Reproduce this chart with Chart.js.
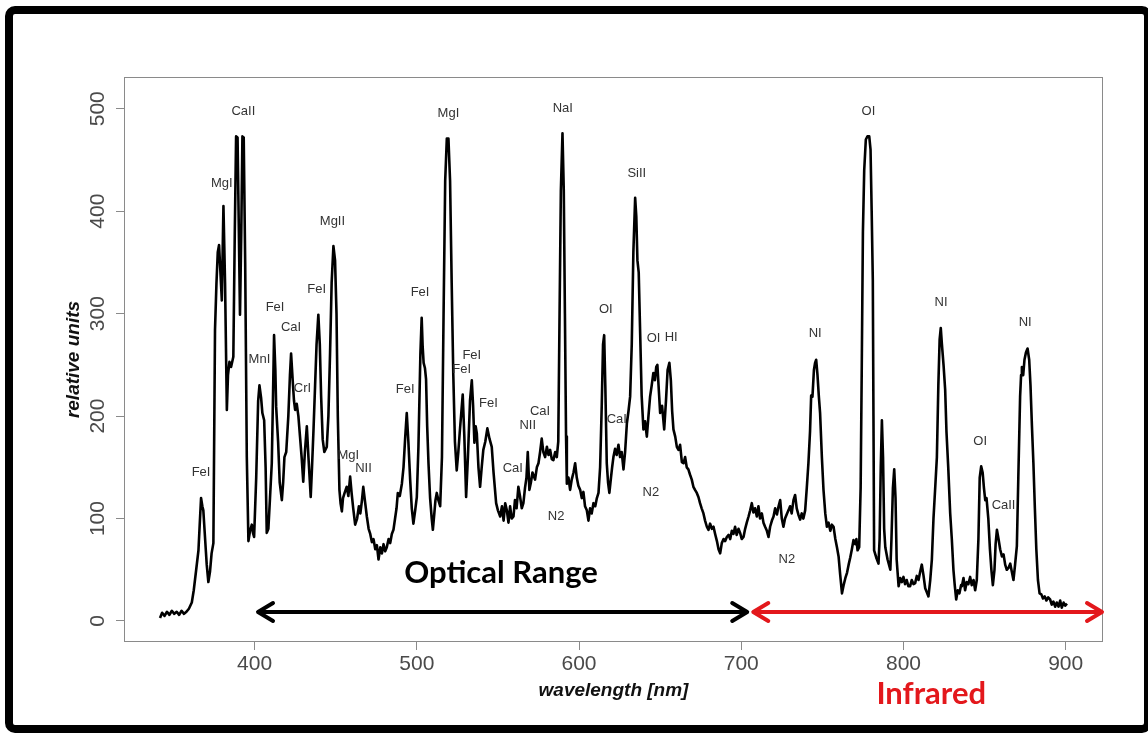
<!DOCTYPE html>
<html>
<head>
<meta charset="utf-8">
<title>Spectrum</title>
<script src="https://cdn.jsdelivr.net/npm/chart.js"></script>
<style>
  body { margin: 0; background: #fff; overflow: hidden; }
  #wrap { position: relative; width: 1148px; height: 733px; overflow: hidden; }
  #frame {
    position: absolute; left: 5px; top: 6px; width: 1147px; height: 727px;
    border: 8px solid #000; border-radius: 10px; box-sizing: border-box;
    pointer-events: none;
  }
</style>
</head>
<body>
<div id="wrap">
  <canvas id="chart-spectrum" width="1148" height="733"></canvas>
  <div id="frame"></div>
</div>
<script>
// spectrum: wavelength (nm) / relative units
const wavelength = [
  341.7, 343, 344.5, 346, 347.5, 349, 350.5, 352, 353.5, 355, 356.5, 358, 359.5, 361.3, 362.5, 364, 365.4, 366.2, 367, 367.8,
  368.4, 369.5, 370.5, 371.5, 372.5, 373.5, 374.6, 375.6, 376.5, 377.3, 378.1, 378.8, 379.8, 380.8, 381.8, 382.9, 383.6, 384.5, 385.5, 386.9,
  387.8, 388.6, 389.5, 390.3, 391, 391.8, 392.5, 393.3, 394.2, 395.2, 396.2, 397.2, 398.3, 399, 399.7, 401, 402.2, 403, 404, 404.8,
  405.9, 406.8, 407.5, 408.5, 409.5, 410.6, 411.3, 412, 412.8, 413.3, 414.5, 415.5, 416.8, 417.6, 418.4, 419.5, 420.8, 421.8, 422.5, 423.6,
  424.3, 425, 426, 427, 428, 429, 430, 431, 432.2, 433.2, 434.6, 435.4, 436.3, 437.3, 438.2, 439.3, 440.2, 441, 442, 443,
  444.5, 445.5, 446.5, 447.5, 448.6, 449.6, 450.5, 451.3, 452.3, 453, 453.8, 454.5, 455.5, 456.8, 457.8, 458.9, 459.8, 460.8, 462, 463.2,
  464.3, 465.2, 466.2, 467, 468.2, 469.2, 470.3, 471.3, 472.3, 473.3, 474.4, 475.4, 476.4, 477.5, 478.5, 479.5, 480.5, 481.5, 482.6, 483.6,
  484.6, 485.6, 486.6, 487.5, 488.3, 489.5, 490.8, 491.8, 492.8, 493.8, 494.8, 495.9, 496.9, 497.9, 499, 500, 501, 502.2, 503, 503.6,
  504.2, 505, 505.7, 506.4, 507.2, 508.2, 509.2, 509.9, 510.8, 511.5, 512.3, 513.3, 514.4, 515.5, 516.5, 517.5, 518.5, 519.5, 520.5, 521.5,
  522.5, 523.5, 524.6, 525.6, 526.5, 527.5, 528.3, 529.3, 530.4, 531.5, 532.8, 533.9, 534.7, 535.5, 536.3, 537, 538, 539, 540, 541,
  542.2, 543.5, 544.8, 546.2, 547.3, 548.9, 550, 551.4, 552.5, 553.5, 554.5, 555.5, 556.5, 557.5, 558.5, 559.6, 560.5, 561.5, 562.6, 563.6,
  564.7, 565.7, 566.7, 567.6, 568.4, 569.4, 570.3, 571.3, 572.9, 574, 575, 576, 577, 578, 579.1, 580.2, 581.2, 582.2, 583.2, 584.2,
  585.3, 586.3, 587.2, 588, 588.8, 589.8, 590.6, 591.3, 592, 592.5, 593.5, 594.5, 595.5, 596.6, 597.6, 598.6, 599.6, 600.7, 601.7, 602.7,
  603.7, 604.8, 605.8, 606.8, 607.8, 608.9, 610, 611, 612, 613, 614, 614.8, 615.5, 616.2, 617.1, 617.9, 618.7, 619.7, 620.4, 621.2,
  622.2, 623.2, 624.3, 625.3, 626.3, 627.4, 628.4, 629.5, 630.5, 631.5, 632.5, 633.5, 634.6, 635.3, 636, 636.8, 637.7, 638.6, 639.7, 640.7,
  641.8, 642.8, 643.8, 644.8, 645.8, 646.8, 647.6, 648.3, 649.2, 650, 651.2, 652.5, 653.6, 654.6, 655.7, 656.6, 657.4, 658.2, 659.3, 660.3,
  661.3, 662.3, 663.4, 664.4, 665.4, 666.4, 667.4, 668.4, 669.5, 670.5, 671.5, 672.6, 673.6, 674.6, 675.6, 676.7, 677.7, 678.8, 679.8, 680.8,
  681.9, 682.9, 683.9, 685, 686, 687, 688, 689.1, 690.1, 691.1, 692.2, 693.2, 694.2, 695.2, 696.2, 697.2, 698.3, 699.3, 700.3, 701.4,
  702.4, 703.4, 704.5, 705.5, 706.5, 707.5, 708.5, 709.6, 710.6, 711.6, 712.7, 713.7, 714.7, 715.8, 716.8, 717.8, 718.9, 719.9, 720.9, 722,
  723, 724, 725, 726, 727, 728, 729.1, 730.1, 731.1, 732.2, 733.2, 734.2, 735.2, 736.3, 737.3, 738.3, 739.4, 740.4, 741.4, 742.4,
  743.1, 743.9, 744.8, 745.5, 746.2, 747, 747.8, 748.6, 749.7, 750.7, 751.8, 752.8, 753.8, 754.9, 755.9, 756.9, 758, 759, 760, 761,
  762.1, 763.1, 764.2, 765.2, 766.2, 767.2, 768.2, 769.2, 770.3, 771, 771.7, 772.7, 773.6, 774.3, 775, 775.8, 776.8, 777.8, 778.9, 779.7,
  780.4, 781.1, 781.5, 781.9, 783.2, 784.6, 785.3, 786, 786.7, 787.4, 788.1, 788.8, 790.2, 791.9, 792.6, 793.5, 794.3, 795.1, 795.8, 797,
  798, 799, 800, 801, 802, 803, 804.1, 805.1, 806.2, 807.2, 808.2, 809.3, 810.3, 811.3, 812.3, 813.4, 814.4, 815.4, 816.5, 817.5,
  818.5, 819.6, 820.6, 821.5, 822.3, 823, 823.7, 824.7, 825.7, 826.5, 827.6, 828.8, 829.8, 830.8, 831.6, 832.5, 833.5, 834.5, 835.5, 836,
  837, 838, 839, 840, 841.1, 842.1, 843.2, 844.2, 845.2, 846.2, 847, 847.9, 848.8, 849.6, 850.4, 851.2, 852.3, 853.3, 854.2, 855.1,
  856.1, 856.8, 857.6, 858.6, 859.6, 860.7, 861.7, 862.7, 863.7, 864.8, 865.8, 866.8, 867.8, 868.8, 869.9, 870.8, 871.9, 872.5, 873, 873.8,
  874.6, 875.5, 876.5, 877.5, 878.3, 879.2, 880.1, 881, 881.9, 882.9, 883.9, 885, 886, 887.1, 888.1, 889.2, 890.4, 891.4, 892.4, 893.5,
  894.5, 895.6, 896.6, 897.6, 898.7, 899.7, 900.8
];
const intensity = [
  3, 8, 5, 9, 6, 10, 7, 9, 6, 10, 7, 9, 12, 18, 30, 50, 69, 95, 120, 112,
  108, 80, 55, 38, 48, 66, 76, 284, 330, 360, 367, 345, 313, 405, 330, 206, 240, 253, 248, 258,
  380, 473, 472, 380, 299, 380, 473, 472, 350, 160, 78, 88, 94, 86, 82, 140, 215, 230, 218, 203,
  196, 150, 86, 90, 120, 154, 215, 279, 245, 209, 175, 135, 118, 135, 160, 165, 200, 240, 261, 232,
  215, 206, 212, 200, 180, 160, 136, 165, 190, 160, 121, 150, 186, 230, 270, 299, 270, 220, 177, 165,
  170, 200, 260, 330, 366, 352, 300, 200, 128, 115, 107, 120, 125, 131, 122, 141, 125, 110, 94, 100,
  112, 105, 118, 131, 115, 102, 90, 85, 77, 80, 70, 74, 60, 72, 66, 75, 68, 72, 80, 76,
  85, 89, 100, 110, 125, 122, 134, 150, 178, 203, 175, 138, 110, 95, 108, 121, 170, 260, 296, 268,
  252, 247, 236, 190, 154, 120, 100, 89, 105, 118, 125, 118, 112, 160, 300, 430, 471, 471, 430, 330,
  240, 175, 147, 165, 185, 205, 221, 180, 121, 160, 215, 235, 210, 174, 190, 183, 150, 131, 150, 167,
  175, 188, 178, 170, 145, 115, 108, 102, 112, 98, 115, 108, 96, 112, 100, 102, 118, 110, 131, 122,
  110, 115, 130, 140, 165, 128, 135, 145, 138, 150, 154, 165, 178, 165, 160, 170, 162, 167, 158, 157,
  165, 160, 175, 300, 420, 476, 420, 300, 180, 134, 140, 128, 138, 145, 154, 140, 132, 128, 120, 126,
  112, 108, 98, 110, 105, 115, 112, 120, 125, 150, 210, 270, 279, 230, 154, 135, 125, 140, 150, 160,
  168, 162, 172, 160, 165, 148, 165, 193, 205, 219, 270, 360, 413, 395, 352, 340, 280, 220, 187, 195,
  180, 200, 219, 230, 242, 235, 248, 250, 225, 203, 210, 187, 215, 245, 252, 235, 205, 187, 180, 170,
  167, 172, 155, 154, 160, 150, 148, 143, 138, 131, 128, 125, 121, 115, 110, 105, 98, 92, 89, 95,
  90, 92, 85, 78, 70, 66, 76, 80, 78, 82, 84, 80, 88, 85, 92, 84, 90, 86, 80, 82,
  90, 96, 102, 108, 115, 106, 110, 102, 112, 100, 105, 96, 92, 88, 82, 92, 98, 102, 110, 104,
  112, 118, 100, 92, 100, 104, 108, 112, 105, 118, 123, 110, 104, 99, 105, 100, 108, 130, 154, 185,
  220, 219, 245, 252, 255, 240, 220, 203, 160, 128, 105, 92, 96, 88, 94, 92, 80, 72, 63, 45,
  27, 35, 42, 47, 55, 62, 70, 79, 75, 80, 69, 72, 130, 250, 380, 440, 470, 473, 473, 460,
  400, 333, 200, 69, 62, 56, 80, 150, 196, 160, 90, 72, 60, 50, 80, 130, 148, 120, 60, 34,
  42, 38, 43, 36, 40, 34, 34, 40, 36, 37, 44, 40, 48, 55, 45, 32, 28, 24, 40, 60,
  100, 131, 160, 230, 275, 286, 270, 250, 226, 185, 150, 105, 80, 50, 35, 21, 30, 27, 35, 34,
  42, 30, 38, 36, 43, 35, 40, 30, 40, 80, 140, 151, 145, 130, 118, 120, 100, 70, 50, 35,
  50, 75, 89, 80, 70, 63, 65, 55, 50, 52, 56, 48, 40, 55, 73, 140, 219, 240, 248, 240,
  255, 262, 266, 255, 230, 190, 154, 110, 70, 40, 27, 26, 22, 24, 20, 23, 21, 16, 19, 14,
  18, 14, 20, 13, 18, 15, 17
];

// axis ticks
const xTicks = [400, 500, 600, 700, 800, 900];
const yTicks = [0, 100, 200, 300, 400, 500];

// line labels (text, wavelength, height)
const peakNames = ['FeI', 'MgI', 'CaII', 'MnI', 'FeI', 'CaI', 'CrI', 'FeI', 'MgII', 'MgI', 'NII',
  'FeI', 'FeI', 'MgI', 'FeI', 'FeI', 'FeI', 'CaI', 'NII', 'CaI', 'N2', 'NaI', 'SiII', 'OI', 'CaI',
  'OI', 'HI', 'N2', 'N2', 'NI', 'OI', 'NI', 'NI', 'OI', 'CaII'];
const peakX = [367.0, 379.8, 393.1, 403.0, 412.6, 422.5, 429.5, 438.3, 448.0, 457.8, 467.1,
  492.8, 502.0, 519.5, 533.9, 527.7, 544.1, 576.0, 568.4, 559.2, 585.9, 590.0, 635.6, 616.5, 623.3,
  645.9, 656.8, 644.3, 728.1, 745.6, 778.4, 823.2, 875.0, 847.3, 861.7];
const peakY = [144.8, 426.8, 497.4, 255.6, 305.7, 286.1, 227.2, 323.2, 389.6, 162.1, 149.1,
  226.3, 320.3, 495.8, 258.8, 245.1, 211.9, 204.4, 190.7, 149.1, 102.5, 500.7, 437.2, 303.7, 197.0,
  276.1, 276.7, 125.3, 60.3, 280.3, 497.4, 310.8, 291.7, 175.1, 113.3];

// spectral ranges (nm)
const rangeNames = ['Optical Range', 'Infrared'];
const rangeFrom = [401.5, 706.8];
const rangeTo = [704.3, 923];

const GRAY = '#4a4a4a';
const RED = '#e3181c';

// box, peak labels, range arrows
const overlay = {
  id: 'overlay',
  afterDatasetsDraw(chart) {
    const ctx = chart.ctx;
    const xs = chart.scales.x;
    const ys = chart.scales.y;
    const a = chart.chartArea;

    ctx.save();
    ctx.strokeStyle = '#8a8a8a';
    ctx.lineWidth = 1;
    ctx.strokeRect(a.left + 0.5, a.top + 0.5, a.right - a.left - 1, a.bottom - a.top - 1);

    ctx.fillStyle = '#333';
    ctx.font = '13px "Liberation Sans", Arial, sans-serif';
    ctx.textAlign = 'center';
    ctx.textBaseline = 'middle';
    peakNames.forEach((name, i) => {
      ctx.fillText(name, xs.getPixelForValue(peakX[i]), ys.getPixelForValue(peakY[i]));
    });

    // double arrows just above zero
    const arrowY = ys.getPixelForValue(8.8);
    const colors = ['#000', RED];
    rangeFrom.forEach((from, i) => {
      const x1 = xs.getPixelForValue(from);
      const x2 = xs.getPixelForValue(rangeTo[i]);
      ctx.strokeStyle = colors[i];
      ctx.lineWidth = 4;
      ctx.lineCap = 'round';
      ctx.lineJoin = 'round';
      ctx.beginPath();
      ctx.moveTo(x1 + 2, arrowY);
      ctx.lineTo(x2 - 2, arrowY);
      ctx.moveTo(x1 + 16, arrowY - 9);
      ctx.lineTo(x1 + 1, arrowY);
      ctx.lineTo(x1 + 16, arrowY + 9);
      ctx.moveTo(x2 - 16, arrowY - 9);
      ctx.lineTo(x2 - 1, arrowY);
      ctx.lineTo(x2 - 16, arrowY + 9);
      ctx.stroke();
    });

    ctx.font = 'bold 31px Lato, "Open Sans", sans-serif';
    ctx.fillStyle = '#000';
    ctx.fillText(rangeNames[0], xs.getPixelForValue(551.9), ys.getPixelForValue(46.9));
    ctx.fillStyle = RED;
    ctx.fillText(rangeNames[1], xs.getPixelForValue(817.1), ys.getPixelForValue(-71.3));
    ctx.restore();
  }
};

const ctx = document.getElementById('chart-spectrum').getContext('2d');
new Chart(ctx, {
  type: 'line',
  data: {
    datasets: [{
      data: wavelength.map((w, i) => ({ x: w, y: intensity[i] })),
      borderColor: '#000',
      borderWidth: 2.6,
      pointRadius: 0,
      tension: 0,
      borderJoinStyle: 'round'
    }]
  },
  options: {
    responsive: false,
    animation: false,
    events: [],
    layout: { padding: { top: 77, right: 45, left: 0, bottom: 0 } },
    plugins: { legend: { display: false }, tooltip: { enabled: false } },
    scales: {
      x: {
        type: 'linear',
        min: 319.5,
        max: 923,
        afterBuildTicks: s => { s.ticks = xTicks.map(v => ({ value: v })); },
        afterFit: s => { s.height = 91; },
        grid: { drawOnChartArea: false, tickLength: 8, color: '#8a8a8a' },
        border: { display: false },
        ticks: {
          padding: 2,
          maxRotation: 0,
          color: GRAY,
          font: { family: '"Liberation Sans", Arial, sans-serif', size: 21 }
        },
        title: {
          display: true,
          text: 'wavelength [nm]',
          color: '#111',
          padding: { top: 0, bottom: 31 },
          font: { family: '"Liberation Sans", Arial, sans-serif', size: 19, style: 'italic', weight: 'bold' }
        }
      },
      y: {
        min: -20.5,
        max: 531,
        afterBuildTicks: s => { s.ticks = yTicks.map(v => ({ value: v })); },
        afterFit: s => { s.width = 124; },
        grid: { drawOnChartArea: false, tickLength: 8, color: '#8a8a8a' },
        border: { display: false },
        ticks: {
          minRotation: 90,
          maxRotation: 90,
          crossAlign: 'center',
          padding: 0,
          color: GRAY,
          font: { family: '"Liberation Sans", Arial, sans-serif', size: 21 }
        },
        title: {
          display: true,
          text: 'relative units',
          color: '#111',
          padding: { top: 62, bottom: 0 },
          font: { family: '"Liberation Sans", Arial, sans-serif', size: 19, style: 'italic', weight: 'bold' }
        }
      }
    }
  },
  plugins: [overlay]
});
</script>
</body>
</html>
